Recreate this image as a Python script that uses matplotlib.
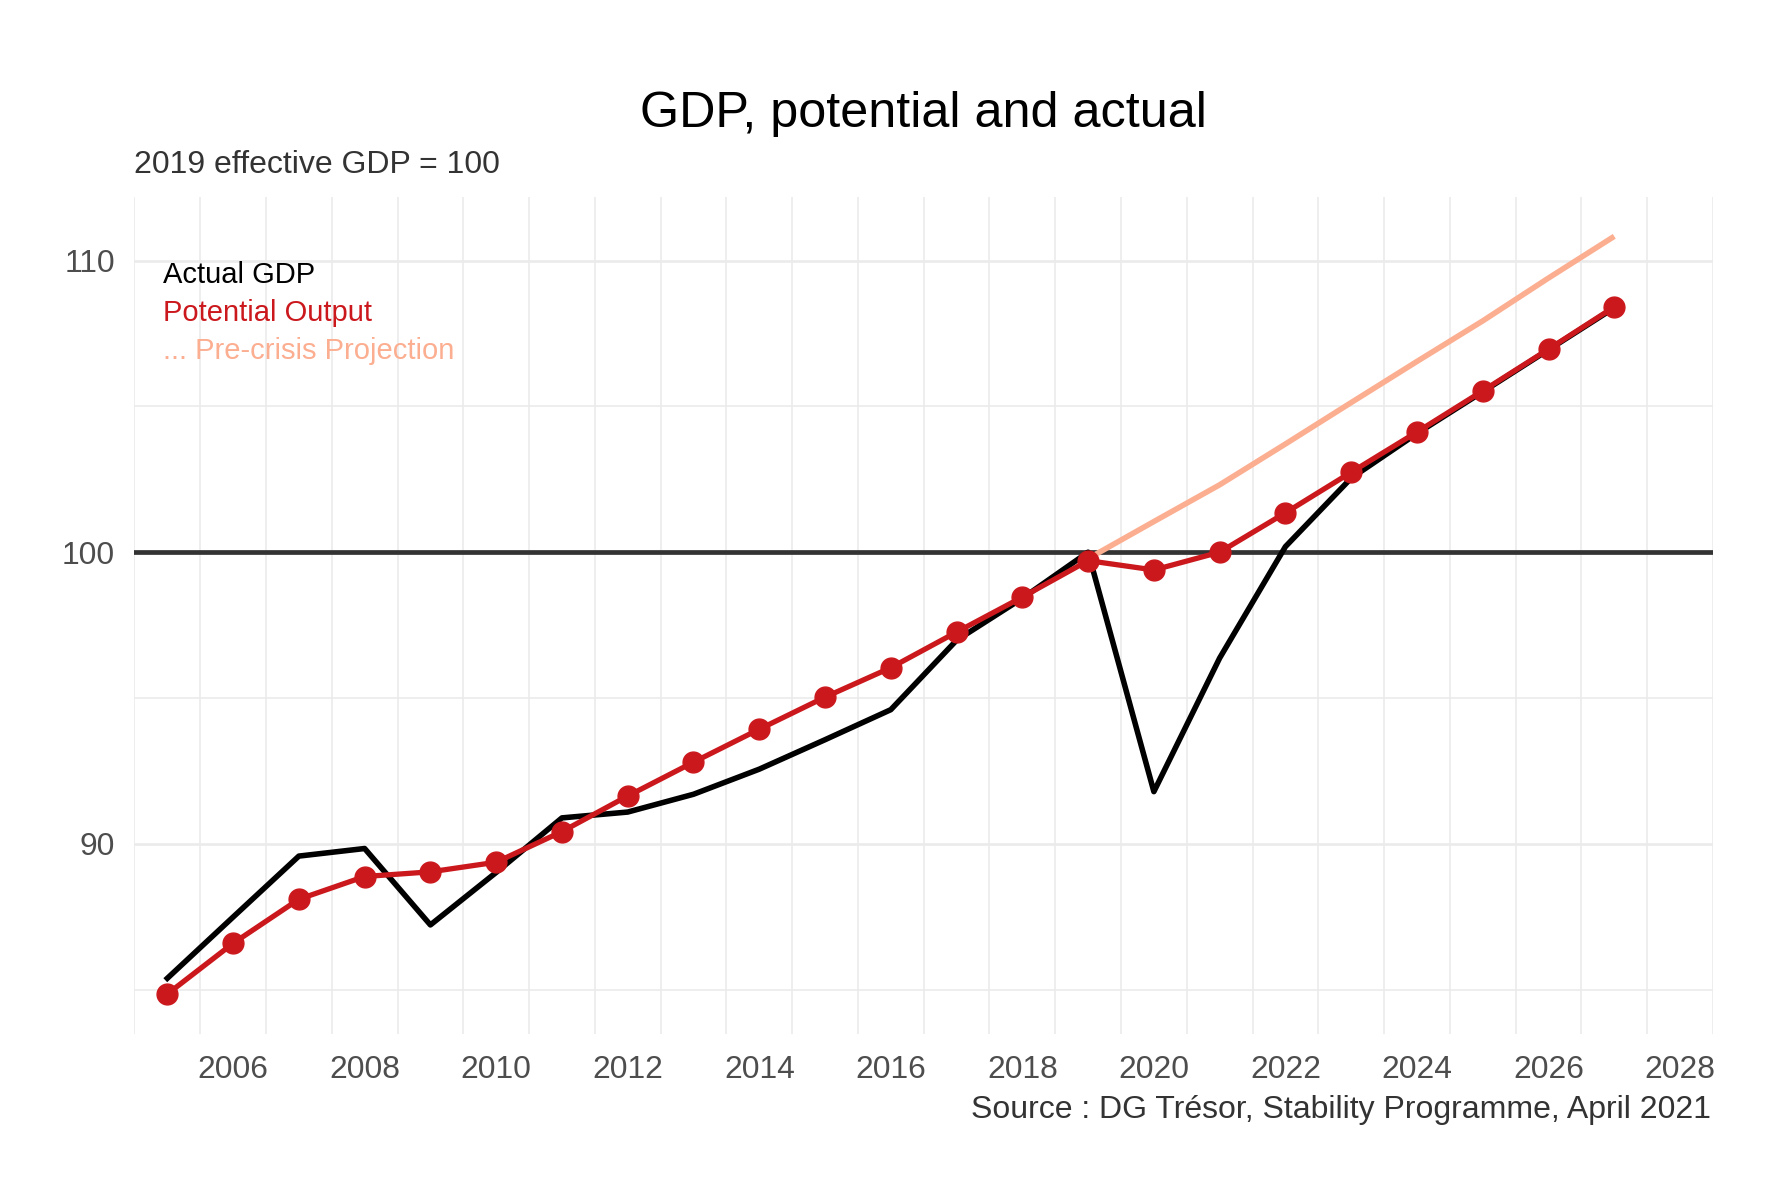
import matplotlib
matplotlib.use("Agg")
import matplotlib.pyplot as plt
from matplotlib.ticker import FixedLocator

plt.rcParams['font.family'] = ['Liberation Sans', 'DejaVu Sans']

# data (index, 2019 actual GDP = 100)
years = list(range(2005, 2028))
actual_gdp = [85.39, 87.49, 89.58, 89.84, 87.22, 89.02, 90.89, 91.09, 91.70,
              92.56, 93.57, 94.60, 96.98, 98.42, 100.0, 91.79, 96.37, 100.19,
              102.54, 104.07, 105.50, 106.94, 108.38]
potential = [84.85, 86.59, 88.10, 88.88, 89.04, 89.37, 90.42, 91.64, 92.80,
             93.93, 95.03, 96.04, 97.26, 98.46, 99.71, 99.39, 100.0, 101.35,
             102.74, 104.12, 105.53, 106.96, 108.41]
proj_years = list(range(2019, 2028))
pre_crisis = [99.78, 101.05, 102.31, 103.71, 105.13, 106.54, 107.93, 109.40, 110.83]

x_labels = list(range(2006, 2029, 2))

RED = '#CB181D'
SALMON = '#FCAE91'
GRID = '#EBEBEB'

fig = plt.figure(figsize=(17.83, 11.94), dpi=100)
ax = fig.add_axes([0.0754, 0.134, 0.9607 - 0.0754, 0.8353 - 0.134])

ax.axhline(100, color='#333333', lw=3.4, zorder=2)
ax.plot(years, actual_gdp, color='black', lw=4.0, zorder=3)
ax.plot(proj_years, pre_crisis, color=SALMON, lw=4.0, zorder=3, solid_capstyle='butt')
ax.plot(years, potential, color=RED, lw=3.8, marker='o', ms=15, zorder=4)

ax.set_xlim(2004.5, 2028.5)
ax.set_ylim(83.48, 112.19)

ax.xaxis.set_major_locator(FixedLocator(x_labels))
ax.xaxis.set_minor_locator(FixedLocator([y + 0.5 for y in range(2004, 2029)]))
ax.yaxis.set_major_locator(FixedLocator([90, 100, 110]))
ax.yaxis.set_minor_locator(FixedLocator([85, 95, 105]))

ax.grid(False)
ax.grid(which='minor', axis='x', color=GRID, lw=1.2, zorder=0)
ax.grid(which='major', axis='y', color=GRID, lw=1.9, zorder=0)
ax.grid(which='minor', axis='y', color=GRID, lw=1.2, zorder=0)
ax.set_axisbelow(True)

ax.tick_params(which='both', length=0)
ax.tick_params(axis='x', pad=15, labelsize=22.9, labelcolor='#4D4D4D')
ax.tick_params(axis='y', pad=14, labelsize=22.9, labelcolor='#4D4D4D')
for s in ax.spines.values():
    s.set_visible(False)

# legend written as coloured text
ax.text(2004.94, 109.22, 'Actual GDP', color='black', fontsize=21, va='baseline')
ax.text(2004.94, 107.91, 'Potential Output', color=RED, fontsize=21, va='baseline')
ax.text(2004.94, 106.62, '... Pre-crisis Projection', color=SALMON, fontsize=21, va='baseline')

fig.text((0.0754 + 0.9607) / 2, 1 - 114 / 1194, 'GDP, potential and actual',
         ha='center', va='center', fontsize=36.3, color='black')
fig.text(0.0754, 1 - 165 / 1194, '2019 effective GDP = 100',
         ha='left', va='center', fontsize=23, color='#333333')
fig.text(0.9596, 1 - 1110 / 1194, 'Source : DG Trésor, Stability Programme, April 2021',
         ha='right', va='center', fontsize=23, color='#333333')

fig.savefig('out.png', dpi=100, facecolor='white')
